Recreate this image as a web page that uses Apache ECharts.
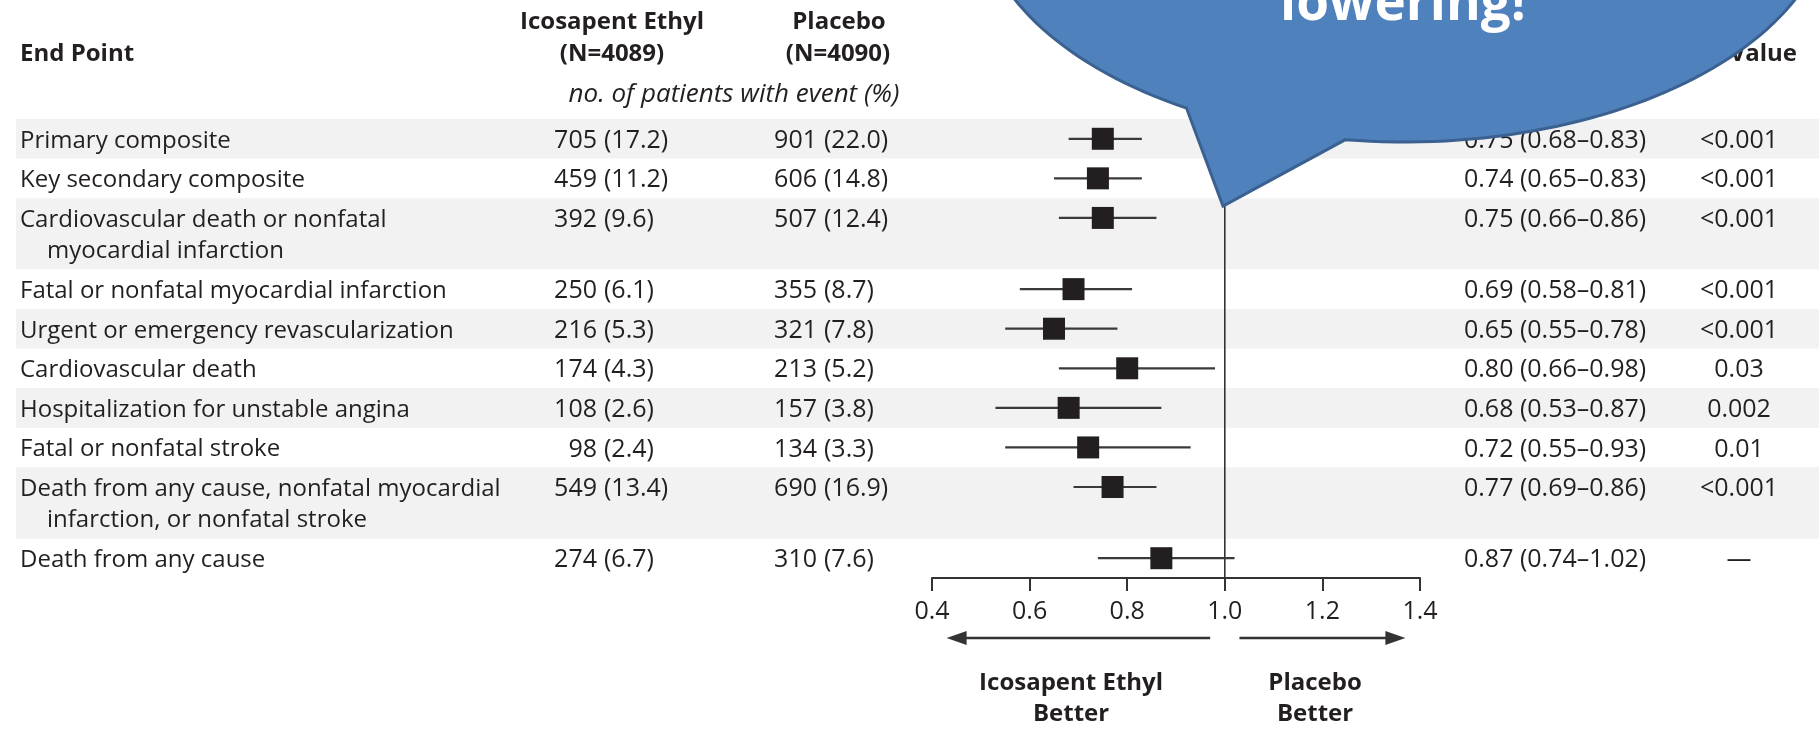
<!DOCTYPE html>
<html>
<head>
<meta charset="utf-8">
<script src="https://cdn.jsdelivr.net/npm/echarts@6/dist/echarts.min.js"></script>
<style>
html,body{margin:0;padding:0;background:#fff;}
#c{width:1819px;height:735px;}
</style>
</head>
<body>
<div id="c"></div>
<script>
// ---------------- data ----------------
const endpoints = [
  "Primary composite",
  "Key secondary composite",
  "Cardiovascular death or nonfatal\nmyocardial infarction",
  "Fatal or nonfatal myocardial infarction",
  "Urgent or emergency revascularization",
  "Cardiovascular death",
  "Hospitalization for unstable angina",
  "Fatal or nonfatal stroke",
  "Death from any cause, nonfatal myocardial\ninfarction, or nonfatal stroke",
  "Death from any cause"
];
const icoCounts = [705, 459, 392, 250, 216, 174, 108, 98, 549, 274];
const icoPct    = ["17.2", "11.2", "9.6", "6.1", "5.3", "4.3", "2.6", "2.4", "13.4", "6.7"];
const plaCounts = [901, 606, 507, 355, 321, 213, 157, 134, 690, 310];
const plaPct    = ["22.0", "14.8", "12.4", "8.7", "7.8", "5.2", "3.8", "3.3", "16.9", "7.6"];
const hazardRatio = [0.75, 0.74, 0.75, 0.69, 0.65, 0.80, 0.68, 0.72, 0.77, 0.87];
const ciLow       = [0.68, 0.65, 0.66, 0.58, 0.55, 0.66, 0.53, 0.55, 0.69, 0.74];
const ciHigh      = [0.83, 0.83, 0.86, 0.81, 0.78, 0.98, 0.87, 0.93, 0.86, 1.02];
const pValues     = ["<0.001", "<0.001", "<0.001", "<0.001", "<0.001", "0.03", "0.002", "0.01", "<0.001", "—"];
const xTickLabels = ["0.4", "0.6", "0.8", "1.0", "1.2", "1.4"];
const calloutText = "lowering!";

// ---------------- layout ----------------
const FONT = '"Open Sans", "Noto Sans", sans-serif';
const TXT = '#231f20';
const FS = 24;
const FSN = 25;
const TY = 2;
const rowLines = endpoints.map(s => s.split('\n').length);
const EXTRA = 0.8;
const rowTop = [];
let acc = 0;
rowLines.forEach(n => { rowTop.push(acc); acc += 1 + EXTRA * (n - 1); });
const totalRows = acc;
const rowBottom = rowTop.map((t, i) => t + 1 + EXTRA * (rowLines[i] - 1));

function fmtHR(i) {
  return hazardRatio[i].toFixed(2) + ' (' + ciLow[i].toFixed(2) + '\u2013' + ciHigh[i].toFixed(2) + ')';
}

const chart = echarts.init(document.getElementById('c'), null, {renderer: 'canvas'});

function txt(text, x, y, align, extra) {
  return {
    type: 'text',
    style: Object.assign({
      text: text, x: x, y: y, align: align || 'left', verticalAlign: 'middle',
      fontSize: FS, fontFamily: FONT, fill: TXT
    }, extra || {})
  };
}

const bandData = endpoints.map((_, i) => [0.4, rowTop[i], rowBottom[i], i]);
const tableData = endpoints.map((_, i) => [0.4, rowTop[i] + 0.5, i]);
const forestData = endpoints.map((_, i) => [hazardRatio[i], rowTop[i] + 0.5, ciLow[i], ciHigh[i]]);

const option = {
  animation: false,
  backgroundColor: '#ffffff',
  grid: {left: 932, right: 399, top: 119, bottom: 157, containLabel: false},
  xAxis: {
    type: 'value', min: 0.4, max: 1.4, interval: 0.2, position: 'bottom',
    axisLine: {show: true, onZero: false, lineStyle: {color: '#333', width: 2}},
    axisTick: {show: true, length: 13, inside: false, lineStyle: {color: '#333', width: 2}},
    axisLabel: {
      show: true, margin: 21, fontSize: FSN, fontFamily: FONT, color: TXT,
      showMinLabel: true, showMaxLabel: true,
      formatter: v => xTickLabels[Math.round((v - 0.4) / 0.2)]
    },
    splitLine: {show: false}
  },
  yAxis: {type: 'value', inverse: true, min: 0, max: totalRows, show: false},
  series: [
    {
      type: 'custom', name: 'bands', z: 0, clip: false, silent: true,
      data: bandData,
      renderItem: (params, api) => {
        const i = api.value(3);
        if (i % 2 !== 0) return null;
        const p1 = api.coord([0.4, api.value(1)]);
        const p2 = api.coord([0.4, api.value(2)]);
        return {type: 'rect', shape: {x: 16, y: p1[1], width: api.getWidth() - 16, height: p2[1] - p1[1]},
                style: {fill: '#f2f2f2'}};
      }
    },
    {
      type: 'custom', name: 'table', z: 3, clip: false, silent: true,
      data: tableData,
      renderItem: (params, api) => {
        const i = api.value(2);
        const y = api.coord([0.4, api.value(1)])[1] + TY;
        const yLine = api.coord([0.4, api.value(1) + EXTRA])[1] + TY - y;
        const lines = endpoints[i].split('\n');
        const children = [];
        const num = {fontSize: FSN};
        lines.forEach((l, k) => children.push(txt(l, k === 0 ? 20 : 47, y + k * yLine, 'left')));
        children.push(txt(String(icoCounts[i]), 597, y, 'right', num));
        children.push(txt('(' + icoPct[i] + ')', 604, y, 'left', num));
        children.push(txt(String(plaCounts[i]), 817, y, 'right', num));
        children.push(txt('(' + plaPct[i] + ')', 824, y, 'left', num));
        children.push(txt(fmtHR(i), 1464, y, 'left', num));
        children.push(txt(pValues[i], 1739, y, 'center', num));
        return {type: 'group', children: children};
      }
    },
    {
      type: 'custom', name: 'refline', z: 2, clip: false, silent: true,
      data: [[1.0, 0, totalRows]],
      renderItem: (params, api) => {
        const a = api.coord([api.value(0), api.value(1)]);
        const b = api.coord([api.value(0), api.value(2)]);
        return {type: 'line', shape: {x1: a[0], y1: a[1], x2: b[0], y2: b[1]},
                style: {stroke: '#333', lineWidth: 1.6}};
      }
    },
    {
      type: 'custom', name: 'forest', z: 4, clip: false, silent: true,
      data: forestData,
      encode: {x: 0, y: 1},
      renderItem: (params, api) => {
        const c = api.coord([api.value(0), api.value(1)]);
        const lo = api.coord([api.value(2), api.value(1)]);
        const hi = api.coord([api.value(3), api.value(1)]);
        const s = 22;
        return {type: 'group', children: [
          {type: 'line', shape: {x1: lo[0], y1: lo[1], x2: hi[0], y2: hi[1]}, style: {stroke: '#3a3a3a', lineWidth: 2.2}},
          {type: 'rect', shape: {x: c[0] - s / 2, y: c[1] - s / 2, width: s, height: s}, style: {fill: '#231f20'}}
        ]};
      }
    }
  ]
};
chart.setOption(option);

// ---------------- headers, arrows, callout ----------------
const px = v => chart.convertToPixel({xAxisIndex: 0}, v);
const bold = {fontWeight: 'bold'};
const g = [];
g.push(txt('End Point', 20, 54, 'left', bold));
g.push(txt('Icosapent Ethyl', 612, 22, 'center', bold));
g.push(txt('(N=4089)', 612, 54, 'center', bold));
g.push(txt('Placebo', 839, 22, 'center', bold));
g.push(txt('(N=4090)', 838, 54, 'center', bold));
g.push(txt('no. of patients with event (%)', 734, 95, 'center', {fontStyle: 'italic', fontSize: 26}));
g.push(txt('Hazard Ratio (95% CI)', 1557, 54, 'center', bold));
g.push(txt('P Value', 1797, 54, 'right', bold));

// arrows
const arrowY = 638;
function arrow(fromV, toV) {
  const x1 = px(fromV), x2 = px(toV);
  const dir = x2 > x1 ? 1 : -1;
  const headL = 20, headW = 7;
  g.push({type: 'line', shape: {x1: x1, y1: arrowY, x2: x2 - dir * headL * 0.8, y2: arrowY}, style: {stroke: '#333', lineWidth: 2.5}});
  g.push({type: 'polygon', shape: {points: [[x2, arrowY], [x2 - dir * headL, arrowY - headW], [x2 - dir * headL, arrowY + headW]]}, style: {fill: '#333'}});
}
arrow(0.97, 0.43);
arrow(1.03, 1.37);
g.push(txt('Icosapent Ethyl', px(0.685), 683, 'center', bold));
g.push(txt('Better', px(0.685), 714, 'center', bold));
g.push(txt('Placebo', px(1.185), 683, 'center', bold));
g.push(txt('Better', px(1.185), 714, 'center', bold));

// callout (speech bubble)
const ecx = 1405, ecy = -100, erx = 428, ery = 242;
const pts = [];
const tStart = 98, tEnd = 120.7 - 360;
for (let k = 0; k <= 200; k++) {
  const t = (tStart + (tEnd - tStart) * k / 200) * Math.PI / 180;
  pts.push([ecx + erx * Math.cos(t), ecy + ery * Math.sin(t)]);
}
pts.push([1223, 206]);
g.push({type: 'polygon', z: 100, shape: {points: pts},
        style: {fill: '#4f81bd', stroke: '#3a6190', lineWidth: 3, lineJoin: 'miter'}});
g.push({type: 'text', z: 101, style: {text: calloutText, x: 1403, y: 5, align: 'center', verticalAlign: 'middle',
        fontSize: 53, fontWeight: 'bold', fontFamily: FONT, fill: '#ffffff'}});

chart.setOption({graphic: {elements: g.map(e => Object.assign({z: e.z || 10}, e))}});
</script>
</body>
</html>
